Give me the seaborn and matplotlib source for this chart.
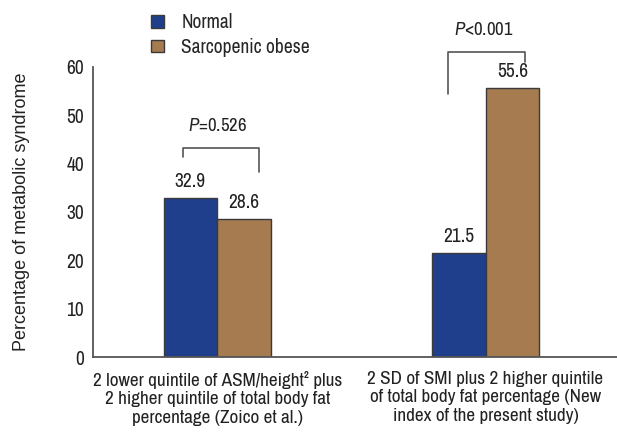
import pandas as pd
import numpy as np
import matplotlib.pyplot as plt
import seaborn as sns

groups = ["2 lower quintile of ASM/height² plus\n2 higher quintile of total body fat\npercentage (Zoico et al.)",
          "2 SD of SMI plus 2 higher quintile\nof total body fat percentage (New\nindex of the present study)"]
series = ["Normal", "Sarcopenic obese"]
normal = [32.9, 21.5]
sarco = [28.6, 55.6]
p_labels = ["$P$=0.526", "$P$<0.001"]
y_ticks = [0, 10, 20, 30, 40, 50, 60]

if __name__ == "__main__":
    sns.set_style("white")
    plt.rcParams['font.family'] = ['Archivo Narrow', 'DejaVu Sans']
    plt.rcParams['mathtext.fontset'] = 'custom'
    plt.rcParams['mathtext.rm'] = 'Archivo Narrow'
    plt.rcParams['mathtext.it'] = 'Archivo Narrow:italic'

    df = pd.DataFrame({
        'group': groups * 2,
        'series': [series[0]] * 2 + [series[1]] * 2,
        'value': normal + sarco,
    })

    fig = plt.figure(figsize=(6.17, 4.33), dpi=100)
    ax = fig.add_axes([0.1507, 0.1755, 0.8493, 0.6698])
    sns.barplot(data=df, x='group', y='value', hue='series', ax=ax,
                palette=['#1f3f8c', '#a77b50'], width=0.4,
                edgecolor='#3a3a3a', linewidth=1.0, saturation=1)

    for c in ax.containers:
        ax.bar_label(c, fmt='%.1f', padding=5, fontsize=14, color='#222222')

    ax.set_xlim(-0.463, 1.49)
    ax.set_ylim(0, 60)
    ax.set_yticks(y_ticks)
    ax.tick_params(axis='y', direction='in', length=6, width=1.2, color='#555555',
                   labelsize=14, pad=6.5, labelcolor='#222222')
    ax.tick_params(axis='x', length=0, labelsize=13.8, pad=10, labelcolor='#222222')
    ax.set_xlabel('')
    ax.set_ylabel('Percentage of metabolic syndrome', fontsize=13,
                  family=['Liberation Sans', 'DejaVu Sans'], labelpad=26, color='#222222')
    sns.despine(ax=ax)
    for s in ['left', 'bottom']:
        ax.spines[s].set_color('#555555')
        ax.spines[s].set_linewidth(1.3)

    # significance brackets: (left x, right x, top y, left bottom, right bottom, text x, text y)
    brackets = [(-0.127, 0.157, 43.3, 41.4, 38.3, 0.0, 47.8),
                (0.862, 1.146, 63.1, 54.4, 61.1, 0.993, 67.7)]
    for (x0, x1, yt, yb0, yb1, tx, ty), lab in zip(brackets, p_labels):
        ax.plot([x0, x0, x1, x1], [yb0, yt, yt, yb1], color='#555555', lw=1.2, clip_on=False)
        ax.text(tx, ty, lab, ha='center', va='center', fontsize=13.5, color='#222222', clip_on=False)

    ax.legend(loc='upper left', bbox_to_anchor=(0.245, 0.97), bbox_transform=fig.transFigure,
              frameon=False, fontsize=14, handlelength=0.65, handleheight=0.65,
              handletextpad=0.9, labelspacing=0.3, borderpad=0, borderaxespad=0)

    plt.savefig('out.png', dpi=100)
